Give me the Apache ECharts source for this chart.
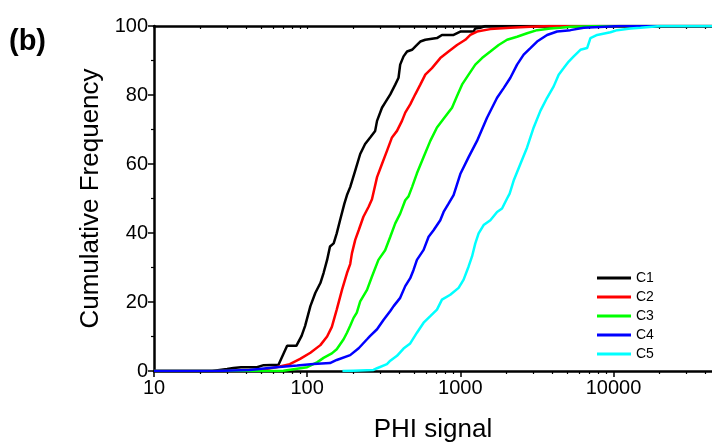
<!DOCTYPE html>
<html>
<head>
<meta charset="utf-8">
<script src="https://cdn.jsdelivr.net/npm/echarts@6/dist/echarts.min.js"></script>
<style>html,body{margin:0;padding:0;background:#fff;}#chart{width:712px;height:448px;}</style>
</head>
<body>
<div id="chart"></div>
<script>
const seriesNames = ['C1', 'C2', 'C3', 'C4', 'C5'];
const seriesColors = ['#000000', '#ff0000', '#00ff00', '#0000ff', '#00ffff'];

const c1 = [[10,0],[24,0],[30,0.6],[33,0.9],[37,1.1],[47,1.1],[52,1.7],[65,1.8],[74,7.3],[85,7.3],[92,10.2],[97,13.1],[105,18.8],[113,22.6],[122,25.5],[128,28.4],[135,32.2],[141,36.1],[149,37],[156,39.9],[164,43.7],[175,48.5],[182,51],[191,53.3],[206,58.1],[222,62.9],[239,65.8],[258,67.7],[278,69.6],[286,72.5],[308,76.3],[323,77.8],[349,80.2],[376,83],[395,85],[405,88.8],[426,91.2],[449,92.6],[484,93.1],[521,94.5],[548,95.5],[591,96],[704,96.5],[759,97.4],[904,97.4],[1000,98.4],[1222,98.4],[1253,99.3],[1351,99.5],[1457,100],[44000,100]];
const c2 = [[10,0],[40,0],[49,0.3],[63,1.1],[77,2],[90,3.5],[105,5.3],[122,7.5],[135,10],[145,12.8],[156,17.8],[169,23.6],[182,28.4],[191,31],[196,34.1],[206,38],[217,40.8],[233,44.7],[252,47.6],[265,49.8],[286,56.2],[308,60],[332,63.8],[358,67.7],[386,69.6],[416,72.5],[437,74.9],[471,77.3],[508,80.2],[548,83],[591,85.9],[653,87.8],[740,90.7],[838,92.6],[952,94.5],[1078,96],[1163,97.4],[1286,98.4],[1571,99.1],[2123,99.5],[2868,99.8],[3875,100],[44000,100]];
const c3 = [[10,0],[65,0],[70,0.1],[100,1.1],[116,2.5],[128,3.8],[138,4.6],[145,5.1],[156,6.3],[160,6.8],[173,9.2],[182,11.1],[191,13.1],[201,15.4],[211,16.9],[222,20.2],[246,23.5],[265,27.4],[292,32.2],[323,35],[349,38.9],[376,42.8],[405,45.6],[437,49.5],[459,50.6],[484,53.3],[521,57.3],[576,62],[637,66.7],[704,70.6],[819,74.4],[883,76.3],[952,79.7],[1026,83],[1133,85.9],[1253,88.8],[1386,90.7],[1571,92.6],[1780,94.5],[2020,96],[2348,96.9],[2729,97.9],[3172,98.8],[3875,99.3],[4504,99.5],[5236,99.8],[8222,100],[44000,100]];
const c4 = [[10,0],[25,0],[42,0.3],[63,1.1],[86,1.6],[110,2],[141,2.3],[156,3.2],[191,4.6],[217,6.6],[246,9.2],[258,10.2],[286,12.1],[315,14.8],[349,17.4],[367,18.8],[405,21.2],[437,24.6],[471,26.9],[495,29.3],[521,32.2],[576,35.1],[621,38.9],[669,40.8],[740,43.7],[778,46.1],[838,48.5],[904,51],[1000,57.1],[1133,62],[1286,66.7],[1494,73.4],[1738,79.2],[1919,82],[2123,85],[2348,88.8],[2593,91.7],[2868,93.6],[3172,95.5],[3687,97.4],[4285,98.4],[5236,98.8],[6396,99.5],[11110,100],[44000,100]];
const c5 = [[170,0],[200,0.1],[271,0.3],[286,0.8],[332,2],[349,3],[386,4.4],[426,6.5],[471,8],[521,11.1],[576,14],[637,15.9],[704,17.8],[759,20.7],[860,22.1],[975,24.1],[1051,26.5],[1133,30.3],[1193,33.2],[1253,37],[1317,39.9],[1420,42.3],[1571,43.7],[1738,46.1],[1873,47.1],[2020,50],[2100,51.4],[2231,55.2],[2467,60],[2729,64.8],[3014,70.6],[3333,75.4],[3687,79.2],[4072,82.5],[4389,85.9],[4734,87.8],[5103,89.7],[5503,91.2],[6085,93.1],[6731,93.6],[7074,96.5],[7824,97.4],[9559,98.2],[10570,98.8],[12920,99.3],[15020,99.5],[20290,100],[44000,100]];

const xMajorTicks = [10, 100, 1000, 10000];
const xMinorTicks = [20,30,40,50,60,70,80,90,200,300,400,500,600,700,800,900,2000,3000,4000,5000,6000,7000,8000,9000,20000,30000,40000];
const yTicks = [0, 20, 40, 60, 80, 100];

const allData = [c1, c2, c3, c4, c5];
const FONT = '"Liberation Sans", Arial, sans-serif';
const X_MIN = 10, X_MAX = 44000;

const chart = echarts.init(document.getElementById('chart'), null, {renderer: 'canvas'});
const axisLineStyle = {color: '#000', width: 2.5};

const option = {
  animation: false,
  backgroundColor: '#fff',
  grid: {left: 154, right: 0, top: 26, bottom: 74, containLabel: false},
  graphic: [{
    type: 'text', left: 9, top: 27,
    style: {text: '(b)', font: 'bold 29px ' + FONT, fill: '#000'}
  }],
  legend: {
    orient: 'vertical', left: 592, top: 266,
    itemWidth: 34, itemHeight: 3, itemGap: 5, icon: 'rect',
    textStyle: {fontSize: 14, fontFamily: FONT, color: '#000'},
    data: seriesNames
  },
  xAxis: [{
    type: 'log', logBase: 10, min: X_MIN, max: X_MAX, position: 'bottom',
    axisLine: {show: true, onZero: false, lineStyle: axisLineStyle},
    axisTick: {show: true, inside: false, length: 6, lineStyle: {color: '#000', width: 1.5}, customValues: xMajorTicks},
    axisLabel: {fontSize: 20, fontFamily: FONT, color: '#000', margin: 7, customValues: xMajorTicks, formatter: v => String(v)},
    splitLine: {show: false},
    name: 'PHI signal', nameLocation: 'middle', nameGap: 46,
    nameTextStyle: {fontSize: 26, fontFamily: FONT, color: '#000'}
  }, {
    type: 'log', logBase: 10, min: X_MIN, max: X_MAX, position: 'bottom',
    axisLine: {show: false},
    axisTick: {show: true, inside: false, length: 3, lineStyle: {color: '#000', width: 1.2}, customValues: xMinorTicks},
    axisLabel: {show: false},
    splitLine: {show: false}
  }, {
    type: 'log', logBase: 10, min: X_MIN, max: X_MAX, position: 'top',
    axisLine: {show: true, onZero: false, lineStyle: axisLineStyle},
    axisTick: {show: true, inside: true, length: 3, lineStyle: {color: '#000', width: 1.2}, customValues: xMajorTicks.concat(xMinorTicks)},
    axisLabel: {show: false},
    splitLine: {show: false}
  }],
  yAxis: [{
    type: 'value', min: 0, max: 100, interval: 20, position: 'left',
    axisLine: {show: true, onZero: false, lineStyle: axisLineStyle},
    axisTick: {show: true, inside: false, length: 6, lineStyle: {color: '#000', width: 1.5}},
    minorTick: {show: true, splitNumber: 2, length: 3, lineStyle: {color: '#000', width: 1.2}},
    axisLabel: {fontSize: 20, fontFamily: FONT, color: '#000', margin: 6, customValues: yTicks},
    splitLine: {show: false},
    name: 'Cumulative Frequency', nameLocation: 'middle', nameGap: 50, nameRotate: 90,
    nameTextStyle: {fontSize: 26, fontFamily: FONT, color: '#000'}
  }],
  series: allData.map((d, i) => ({
    name: seriesNames[i], type: 'line', data: d, xAxisIndex: 0, yAxisIndex: 0,
    showSymbol: false, symbol: 'none', smooth: false,
    lineStyle: {color: seriesColors[i], width: 2.5},
    itemStyle: {color: seriesColors[i]}
  }))
};
chart.setOption(option);
</script>
</body>
</html>
